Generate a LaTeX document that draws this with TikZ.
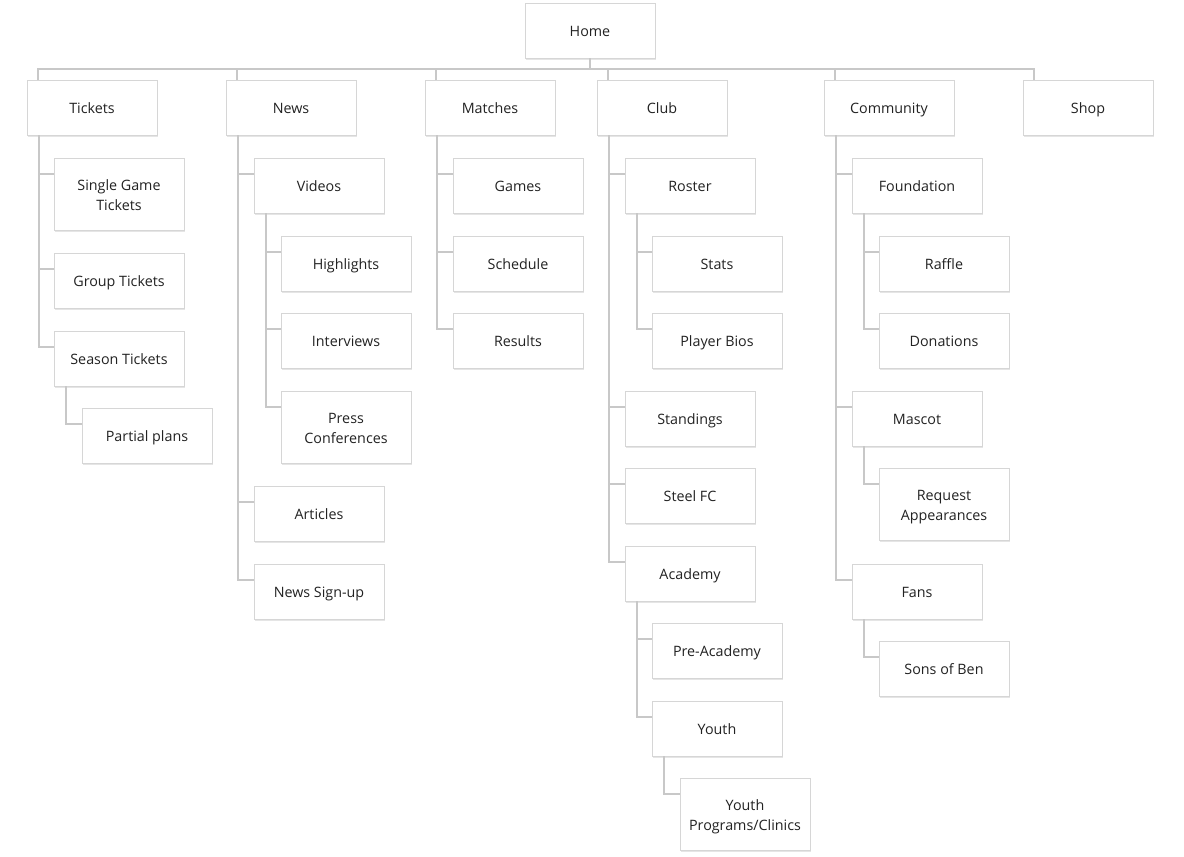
\documentclass[tikz,border=0pt]{standalone}
\usepackage{fontspec}
\setmainfont{Open Sans}
\usetikzlibrary{shadows}
\definecolor{boxline}{HTML}{D6D6D6}
\definecolor{wire}{HTML}{C8C8C8}
\definecolor{ink}{HTML}{222222}
\begin{document}
\begin{tikzpicture}[x=1pt,y=-1pt,
  page/.style={draw=boxline, line width=1pt, fill=white, text=ink,
    minimum width=130pt, minimum height=55pt, inner sep=0pt, outer sep=0pt,
    align=center, font=\fontsize{14.3}{20}\selectfont, anchor=north west,
    text height=12.5pt, text depth=0pt,
    drop shadow={shadow xshift=1pt, shadow yshift=-1.5pt, fill=black, opacity=0.10}},
  tall/.style={page, minimum height=72pt, text height=32.5pt},
  wire/.style={draw=wire, line width=1.1pt}]
\useasboundingbox (0,0) rectangle (1184,857);

% top level
\node[page] (home) at (525,3) {Home};
\node[page] (tickets) at (27,80) {Tickets};
\node[page] (news) at (226,80) {News};
\node[page] (matches) at (425,80) {Matches};
\node[page] (club) at (597,80) {Club};
\node[page] (community) at (824,80) {Community};
\node[page] (shop) at (1023,80) {Shop};

% tickets
\node[tall] (single) at (54,158) {Single Game\\Tickets};
\node[page] (group) at (54,253) {Group Tickets};
\node[page] (season) at (54,331) {Season Tickets};
\node[page] (partial) at (82,408) {Partial plans};

% news
\node[page] (videos) at (254,158) {Videos};
\node[page] (highlights) at (281,236) {Highlights};
\node[page] (interviews) at (281,313) {Interviews};
\node[tall] (press) at (281,391) {Press\\Conferences};
\node[page] (articles) at (254,486) {Articles};
\node[page] (signup) at (254,564) {News Sign-up};

% matches
\node[page] (games) at (453,158) {Games};
\node[page] (schedule) at (453,236) {Schedule};
\node[page] (results) at (453,313) {Results};

% club
\node[page] (roster) at (625,158) {Roster};
\node[page] (stats) at (652,236) {Stats};
\node[page] (bios) at (652,313) {Player Bios};
\node[page] (standings) at (625,391) {Standings};
\node[page] (steel) at (625,468) {Steel FC};
\node[page] (academy) at (625,546) {Academy};
\node[page] (pre) at (652,623) {Pre-Academy};
\node[page] (youth) at (652,701) {Youth};
\node[tall] (clinics) at (680,778) {Youth\\Programs/Clinics};

% community
\node[page] (foundation) at (852,158) {Foundation};
\node[page] (raffle) at (879,236) {Raffle};
\node[page] (donations) at (879,313) {Donations};
\node[page] (mascot) at (852,391) {Mascot};
\node[tall] (request) at (879,468) {Request\\Appearances};
\node[page] (fans) at (852,564) {Fans};
\node[page] (sons) at (879,641) {Sons of Ben};

% main bus below Home
\coordinate (bus) at (590,69);
\draw[wire] (home.south) -- (bus);
\draw[wire] ([xshift=11pt]tickets.north west) -- ([xshift=11pt]tickets.north west |- bus)
  -- ([xshift=11pt]shop.north west |- bus) -- ([xshift=11pt]shop.north west);
\foreach \n in {news,matches,club,community}
  \draw[wire] ([xshift=11pt]\n.north west) -- ([xshift=11pt]\n.north west |- bus);

% elbow connectors from a parent to its children
\foreach \p/\c in {tickets/single,tickets/group,tickets/season,season/partial,
    news/videos,videos/highlights,videos/interviews,videos/press,news/articles,news/signup,
    matches/games,matches/schedule,matches/results,
    club/roster,roster/stats,roster/bios,club/standings,club/steel,club/academy,
    academy/pre,academy/youth,youth/clinics,
    community/foundation,foundation/raffle,foundation/donations,community/mascot,
    mascot/request,community/fans,fans/sons}
  \draw[wire] ([xshift=12pt]\p.south west) |- ([yshift=-16pt]\c.north west);
\end{tikzpicture}
\end{document}
